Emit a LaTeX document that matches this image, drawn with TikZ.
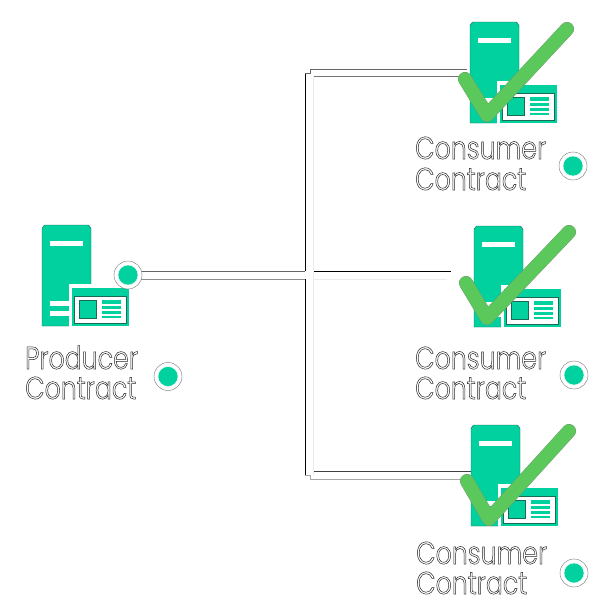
\documentclass[tikz,border=0pt]{standalone}
\usepackage{fontspec}
\setmainfont{Poppins}[UprightFont=* Light,FakeStretch=0.8]
\definecolor{teal}{HTML}{00D19E}
\definecolor{chk}{HTML}{5AC85A}
\definecolor{edge}{HTML}{1A6A55}
\newcommand{\outl}[1]{\special{pdf:code q 1 Tr 0.5 w 0.15 0.15 0.15 RG}#1\special{pdf:code Q}}
\tikzset{
  x=1pt,y=-1pt,
  label/.style={inner sep=0pt,anchor=base west,font=\fontsize{31.5}{32}\selectfont,text=black},
  dot/.style={circle,fill=teal,minimum size=20pt,inner sep=0pt,draw=white},
  ring/.style={circle,draw=black!55,line width=.4pt,fill=white,minimum size=28pt,inner sep=0pt},
  server/.style={fill=teal,draw=edge,line width=.4pt},
  slot/.style={fill=white,draw=none},
  tube/.style={line width=.9pt},
  check/.style={line width=13.5pt,draw=chk,line cap=round,line join=round},
  checkedge/.style={line width=14pt,draw=black!50,line cap=round,line join=round},
}
\newcommand{\icon}[2]{%
\begin{scope}[shift={(#1,#2)}]
 \path[server] (42,326) -- (42,228) to[out=-90,in=180] (45,225) -- (88,225) to[out=0,in=-90] (91,228) -- (91,326) -- cycle;
 \fill[slot] (49.5,240.5) rectangle (83,245.5);
 \fill[slot] (49.5,301) rectangle (70,306);
 \fill[slot] (49.5,311) rectangle (70,316);
 \fill[white] (69,284) rectangle (92,327);
 \fill[teal] (72,288) rectangle (128.5,326);
 \fill[white,draw=edge,line width=.4pt] (74.5,296) rectangle (126,323);
 \fill[teal,draw=edge,line width=.4pt] (79,300) rectangle (96.5,318);
 \fill[teal] (102,300) rectangle (121,303.5);
 \fill[teal] (102,305.5) rectangle (121,308.5);
 \fill[teal] (102,310.5) rectangle (121,313.5);
 \fill[teal] (102,315.5) rectangle (121,318);
\end{scope}}
\newcommand{\tick}[6]{%
 \coordinate (ca) at (#1,#2); \coordinate (cb) at (#3,#4); \coordinate (cc) at (#5,#6);
 \draw[checkedge] (ca) -- (cb) -- (cc);
 \draw[check] (ca) -- (cb) -- (cc);}
\begin{document}
\begin{tikzpicture}
\useasboundingbox (0,0) rectangle (600,600);
\fill[white] (0,0) rectangle (600,600);
% connectors
\coordinate (hubT) at (141,271); \coordinate (hubB) at (141,279);
\coordinate (c1t) at (467,69); \coordinate (c1b) at (465,76);
\coordinate (c2t) at (451,271); \coordinate (c2b) at (447,279);
\coordinate (c3t) at (471,471); \coordinate (c3b) at (468,479);
\draw[tube,black!60] (hubT) -- (305,271);
\draw[tube,black!45] (hubB) -- (305,279);
\draw[tube,black] (305,271) -- (305,73);
\draw[tube,black!60] (305,73) -- (310,73) -- (310,69) -- (c1t);
\draw[tube,black!55] (314,76) -- (c1b);
\draw[line width=.4pt,black!8] (313.5,76) -- (313.5,475);
\draw[tube,black] (314,271) -- (c2t);
\draw[tube,black!8] (314,279) -- (c2b);
\draw[tube,black] (305,279) -- (305,475);
\draw[tube,black!35] (305,475) -- (310,475) -- (310,479) -- (c3b);
\draw[tube,black!75] (314,471) -- (c3t);
% producer
\icon{0}{0}
\node[ring] (pr) at (128,275) {}; \node[dot] (pd) at (128,275) {};
\node[label] (pl1) at (25,369) {\outl{Producer}};
\node[label] (pl2) at (25,399) {\outl{Contract}};
\node[ring] (p2r) at (168,376.5) {}; \node[dot] (p2d) at (168,376.5) {};
% consumers
\icon{428}{-203}
\tick{465}{79}{487}{115}{567}{29}
\node[label] (a1) at (415,159) {\outl{Consumer}};
\node[label] (a2) at (415,190) {\outl{Contract}};
\node[ring] (ar) at (573,166) {}; \node[dot] (ad) at (573,166) {};
\icon{432}{1}
\tick{466}{283}{487}{318}{569}{232}
\node[label] (b1) at (415,369) {\outl{Consumer}};
\node[label] (b2) at (415,399) {\outl{Contract}};
\node[ring] (br) at (574,375) {}; \node[dot] (bd) at (574,375) {};
\icon{429}{200}
\tick{467}{481}{489}{519}{569}{431}
\node[label] (c1) at (416,564) {\outl{Consumer}};
\node[label] (c2) at (416,594) {\outl{Contract}};
\node[ring] (cr) at (574,573) {}; \node[dot] (cd) at (574,573) {};
\end{tikzpicture}
\end{document}
